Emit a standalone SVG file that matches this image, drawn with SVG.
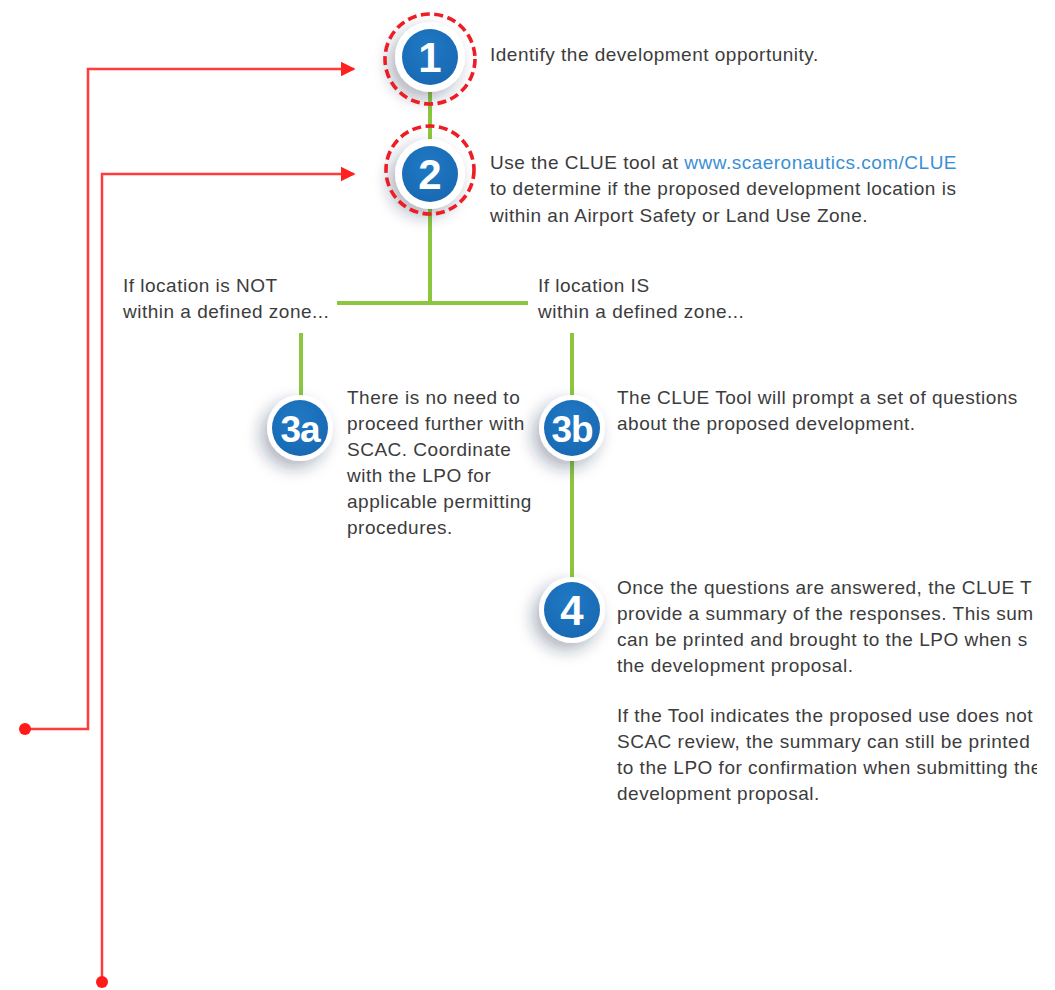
<svg xmlns="http://www.w3.org/2000/svg" width="1055" height="990" viewBox="0 0 1055 990">
<defs>
<style>
.t{font-family:"Liberation Sans",Arial,sans-serif;font-size:19px;letter-spacing:0.5px;fill:#3c3c3c}
.lnk{fill:#3b8fd4}
.num{font-family:"Liberation Sans",Arial,sans-serif;font-weight:bold;fill:#fff;text-anchor:middle}
.ring{fill:#fff}
.blue{fill:url(#bg)}
.dash{fill:none;stroke:#ee1c24;stroke-width:3.6;stroke-dasharray:9 4.5}
.green{stroke:#8cc63f;stroke-width:4;fill:none}
.red{stroke:#ff3b3b;stroke-width:2.5;fill:none}
</style>
<radialGradient id="bg" cx="0.45" cy="0.35" r="0.7">
<stop offset="0" stop-color="#2079c4"/>
<stop offset="1" stop-color="#1868b2"/>
</radialGradient>
<filter id="sh" x="-70%" y="-70%" width="240%" height="240%">
<feDropShadow dx="-6" dy="7" stdDeviation="8" flood-color="#1a2a4a" flood-opacity="0.35"/>
</filter>
<marker id="ar" viewBox="0 0 10 10" refX="9" refY="5" markerWidth="6" markerHeight="6" markerUnits="strokeWidth" orient="auto">
<path d="M0,0 L10,5 L0,10 z" fill="#ff2020"/>
</marker>
<clipPath id="cl"><rect x="0" y="0" width="1037" height="990"/></clipPath>
</defs>
<rect width="1055" height="990" fill="#fff"/>
<g id="connectors">
<path class="green" d="M430,80 V150"/>
<path class="green" d="M430,200 V303"/>
<path class="green" d="M337,303 H528"/>
<path class="green" d="M301,333 V400"/>
<path class="green" d="M572,333 V400"/>
<path class="green" d="M572,455 V585"/>
<path class="red" d="M24,729 H88 V69 H354" marker-end="url(#ar)"/>
<path class="red" d="M102,982 V174 H354" marker-end="url(#ar)"/>
<circle cx="25" cy="729" r="6" fill="#ff1a1a"/>
<circle cx="102" cy="982" r="6" fill="#ff1a1a"/>
</g>
<g id="step1">
<circle cx="430" cy="57" r="35" class="ring" filter="url(#sh)"/>
<circle cx="430" cy="57" r="28" class="blue"/>
<circle cx="430" cy="59" r="45" class="dash"/>
<text x="430" y="72" class="num" font-size="42">1</text>
<text x="490" y="61" class="t">Identify the development opportunity.</text>
</g>
<g id="step2">
<circle cx="430" cy="174" r="35" class="ring" filter="url(#sh)"/>
<circle cx="430" cy="174" r="28" class="blue"/>
<circle cx="430" cy="170" r="44" class="dash"/>
<text x="430" y="189" class="num" font-size="42">2</text>
<text class="t"><tspan x="490" y="169">Use the CLUE tool at <tspan class="lnk">www.scaeronautics.com/CLUE</tspan></tspan><tspan x="490" y="195">to determine if the proposed development location is</tspan><tspan x="490" y="222">within an Airport Safety or Land Use Zone.</tspan></text>
</g>
<g id="label-not">
<text class="t"><tspan x="123" y="292">If location is NOT</tspan><tspan x="123" y="318">within a defined zone...</tspan></text>
</g>
<g id="label-is">
<text class="t"><tspan x="538" y="292">If location IS</tspan><tspan x="538" y="318">within a defined zone...</tspan></text>
</g>
<g id="step3a">
<circle cx="300" cy="428" r="33" class="ring" filter="url(#sh)"/>
<circle cx="300" cy="428" r="28" class="blue"/>
<text x="300" y="442" class="num" font-size="37" letter-spacing="-1">3a</text>
<text class="t"><tspan x="347" y="404">There is no need to</tspan><tspan x="347" y="430">proceed further with</tspan><tspan x="347" y="456">SCAC. Coordinate</tspan><tspan x="347" y="482">with the LPO for</tspan><tspan x="347" y="508">applicable permitting</tspan><tspan x="347" y="534">procedures.</tspan></text>
</g>
<g id="step3b">
<circle cx="572" cy="428" r="33" class="ring" filter="url(#sh)"/>
<circle cx="572" cy="428" r="28" class="blue"/>
<text x="572" y="442" class="num" font-size="37" letter-spacing="-1">3b</text>
<text class="t"><tspan x="617" y="404">The CLUE Tool will prompt a set of questions</tspan><tspan x="617" y="430">about the proposed development.</tspan></text>
</g>
<g id="step4">
<circle cx="572" cy="610" r="33" class="ring" filter="url(#sh)"/>
<circle cx="572" cy="610" r="28" class="blue"/>
<text x="572" y="625" class="num" font-size="42">4</text>
<g clip-path="url(#cl)">
<text class="t"><tspan x="617" y="594">Once the questions are answered, the CLUE T</tspan><tspan x="617" y="620">provide a summary of the responses. This sum</tspan><tspan x="617" y="646">can be printed and brought to the LPO when s</tspan><tspan x="617" y="672">the development proposal.</tspan><tspan x="617" y="722">If the Tool indicates the proposed use does not</tspan><tspan x="617" y="748">SCAC review, the summary can still be printed</tspan><tspan x="617" y="774">to the LPO for confirmation when submitting the</tspan><tspan x="617" y="800">development proposal.</tspan></text>
</g>
</g>
</svg>
